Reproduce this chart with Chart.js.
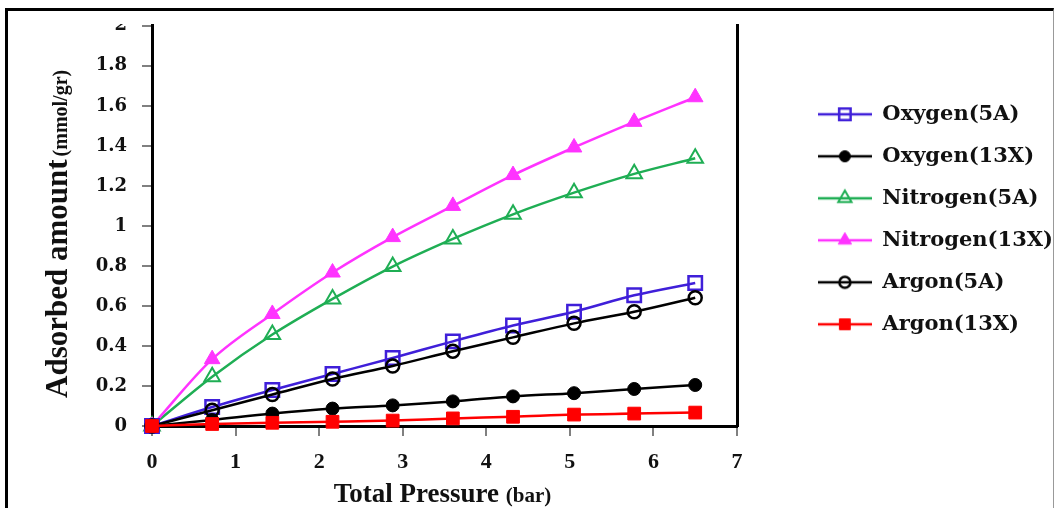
<!DOCTYPE html>
<html>
<head>
<meta charset="utf-8">
<script src="https://cdn.jsdelivr.net/npm/chart.js@4.4.1/dist/chart.umd.min.js"></script>
<style>
  html, body { margin: 0; padding: 0; background: #fff; }
  body { width: 1056px; height: 508px; position: relative; overflow: hidden; }
  #clip { position: absolute; left: 0; top: 24px; width: 1056px; height: 484px; overflow: hidden; }
  #chart { position: absolute; left: 0; top: -24px; }
  #frame { position: absolute; left: 5px; top: 8px; width: 1045px; height: 520px;
           border-top: 3px solid #000; border-left: 3px solid #000; border-right: 1px solid #999;
           pointer-events: none; }
</style>
</head>
<body>
<div id="clip"><canvas id="chart" width="1056" height="508"></canvas></div>
<div id="frame"></div>
<script>
// values
const pressure    = [0, 0.72, 1.44, 2.16, 2.88, 3.6, 4.32, 5.05, 5.77, 6.5];
const oxygen5A    = [0, 0.095, 0.18, 0.26, 0.34, 0.423, 0.502, 0.571, 0.653, 0.715];
const oxygen13X   = [0, 0.03, 0.062, 0.087, 0.103, 0.123, 0.148, 0.164, 0.185, 0.205];
const nitrogen5A  = [0, 0.246, 0.457, 0.635, 0.797, 0.935, 1.058, 1.166, 1.26, 1.338];
const nitrogen13X = [0, 0.334, 0.56, 0.767, 0.944, 1.10, 1.254, 1.392, 1.52, 1.643];
const argon5A     = [0, 0.079, 0.157, 0.235, 0.30, 0.374, 0.443, 0.513, 0.571, 0.641];
const argon13X    = [0, 0.01, 0.016, 0.021, 0.027, 0.038, 0.046, 0.057, 0.062, 0.067];

const seriesNames = ['Oxygen(5A)', 'Oxygen(13X)', 'Nitrogen(5A)', 'Nitrogen(13X)', 'Argon(5A)', 'Argon(13X)'];
const xTicks = [0, 1, 2, 3, 4, 5, 6, 7];
const yTicks = [0, 0.2, 0.4, 0.6, 0.8, 1, 1.2, 1.4, 1.6, 1.8, 2];
const yTickLabels = ['0', '0.2', '0.4', '0.6', '0.8', '1', '1.2', '1.4', '1.6', '1.8', '2'];
const xTitle = 'Total Pressure';
const xUnit = '(bar)';
const yTitle = 'Adsorbed amount';
const yUnit = '(mmol/gr)';

const LEGEND_FONT = 'bold 21px "DejaVu Serif"';
const ICON_W = 54;
const PAD_RIGHT = -7;

const styles = [
  { color: '#3f1fd9', point: 'rect',     radius: 9.5, fill: false, bw: 2.5 },
  { color: '#000000', point: 'circle',   radius: 6.5, fill: true,  bw: 1 },
  { color: '#1fae54', point: 'triangle', radius: 9,   fill: false, bw: 2 },
  { color: '#ff33ff', point: 'triangle', radius: 9,   fill: true,  bw: 1 },
  { color: '#000000', point: 'circle',   radius: 6.5, fill: false, bw: 2.5 },
  { color: '#ff0000', point: 'rect',     radius: 9,   fill: true,  bw: 1 }
];
const drawOrder = [4, 3, 6, 5, 2, 1];
const series = [oxygen5A, oxygen13X, nitrogen5A, nitrogen13X, argon5A, argon13X];

// legend swatch: line with marker in the middle
function makeIcon(st) {
  const c = document.createElement('canvas');
  c.width = ICON_W; c.height = 24;
  const g = c.getContext('2d');
  g.strokeStyle = st.color;
  g.lineWidth = 2.5;
  g.beginPath(); g.moveTo(0, 12); g.lineTo(ICON_W, 12); g.stroke();
  g.fillStyle = st.fill ? st.color : 'rgba(0,0,0,0)';
  g.lineWidth = st.bw;
  Chart.helpers.drawPoint(g, { pointStyle: st.point, radius: st.radius * 0.85, rotation: 0, borderWidth: st.bw }, ICON_W / 2, 12);
  return c;
}
const legendIcons = styles.map(makeIcon);

const datasets = series.map((arr, i) => ({
  label: seriesNames[i],
  data: pressure.map((p, j) => ({ x: p, y: arr[j] })),
  borderColor: styles[i].color,
  backgroundColor: styles[i].fill ? styles[i].color : 'rgba(0,0,0,0)',
  borderWidth: 2.5,
  pointStyle: styles[i].point,
  pointRadius: styles[i].radius,
  pointBorderWidth: styles[i].bw,
  pointBackgroundColor: styles[i].fill ? styles[i].color : 'rgba(0,0,0,0)',
  pointBorderColor: styles[i].color,
  cubicInterpolationMode: 'monotone',
  fill: false,
  clip: false,
  order: drawOrder[i]
}));

const axisTitles = {
  id: 'axisTitles',
  afterDraw(chart) {
    const ctx = chart.ctx;
    const a = chart.chartArea;
    ctx.save();
    ctx.fillStyle = '#111';
    ctx.textBaseline = 'alphabetic';
    ctx.textAlign = 'left';

    // x title
    ctx.font = 'bold 27px "Liberation Serif"';
    const w1 = ctx.measureText(xTitle + ' ').width;
    ctx.font = 'bold 21px "Liberation Serif"';
    const w2 = ctx.measureText(xUnit).width;
    const x0 = (a.left + a.right) / 2 - 2 - (w1 + w2) / 2;
    ctx.font = 'bold 27px "Liberation Serif"';
    ctx.fillText(xTitle, x0, 502);
    ctx.font = 'bold 21px "Liberation Serif"';
    ctx.fillText(xUnit, x0 + w1, 502);

    // y title, rotated
    ctx.translate(67, 398);
    ctx.rotate(-Math.PI / 2);
    ctx.font = 'bold 31px "Liberation Serif"';
    ctx.fillText(yTitle, 0, 0);
    const w3 = ctx.measureText(yTitle).width;
    ctx.font = 'bold 20px "Liberation Serif"';
    ctx.fillText(yUnit, w3 + 3, 0);
    ctx.restore();
  }
};

Chart.defaults.font.family = 'Liberation Serif';
Chart.defaults.color = '#111';

new Chart(document.getElementById('chart'), {
  type: 'line',
  data: { datasets: datasets },
  options: {
    responsive: false,
    animation: false,
    layout: { padding: { top: 19, right: PAD_RIGHT, bottom: 0, left: 0 } },
    plugins: {
      tooltip: { enabled: false },
      legend: {
        position: 'right',
        align: 'start',
        fullSize: false,
        maxWidth: 400,
        title: { display: true, text: ' ', font: { size: 10 }, padding: { top: 0, bottom: 45 } },
        labels: {
          usePointStyle: true,
          pointStyleWidth: ICON_W,
          padding: 21,
          color: '#111',
          font: { family: 'DejaVu Serif', weight: 'bold', size: 21 },
          generateLabels: chart => chart.data.datasets.map((ds, i) => ({
            text: ds.label,
            pointStyle: legendIcons[i],
            fillStyle: ds.backgroundColor,
            strokeStyle: ds.borderColor,
            lineWidth: 0,
            fontColor: '#111',
            hidden: false,
            datasetIndex: i
          }))
        }
      }
    },
    scales: {
      x: {
        type: 'linear',
        min: 0,
        max: 7,
        afterBuildTicks: s => { s.ticks = xTicks.map(v => ({ value: v })); },
        afterFit: s => { s.height = 82; },
        grid: { display: true, drawOnChartArea: false, drawTicks: true, tickLength: 10, color: '#808080', lineWidth: 2 },
        border: { display: true, color: '#000', width: 3 },
        ticks: { padding: 13, color: '#111', font: { family: 'Liberation Serif', weight: 'bold', size: 22 } }
      },
      y: {
        type: 'linear',
        min: 0,
        max: 2,
        afterBuildTicks: s => { s.ticks = yTicks.map(v => ({ value: v })); },
        afterFit: s => { s.width = 152; },
        grid: { display: true, drawOnChartArea: false, drawTicks: true, tickLength: 10, color: '#808080', lineWidth: 2 },
        border: { display: true, color: '#000', width: 3 },
        ticks: {
          padding: 15,
          color: '#111',
          font: { family: 'DejaVu Serif', weight: 'bold', size: 18 },
          callback: (v, i) => yTickLabels[i]
        }
      },
      y2: {
        type: 'linear',
        position: 'right',
        grid: { display: false },
        ticks: { display: false },
        border: { display: true, color: '#000', width: 3 },
        afterFit: s => {
          const c = s.ctx;
          c.save();
          c.font = LEGEND_FONT;
          const w = Math.max(...seriesNames.map(n => c.measureText(n).width));
          c.restore();
          const legendW = 21 + ICON_W + 10.5 + w;
          s.width = Math.max(0, 1056 - PAD_RIGHT - legendW - 747);
        }
      }
    }
  },
  plugins: [axisTitles]
});
</script>
</body>
</html>
